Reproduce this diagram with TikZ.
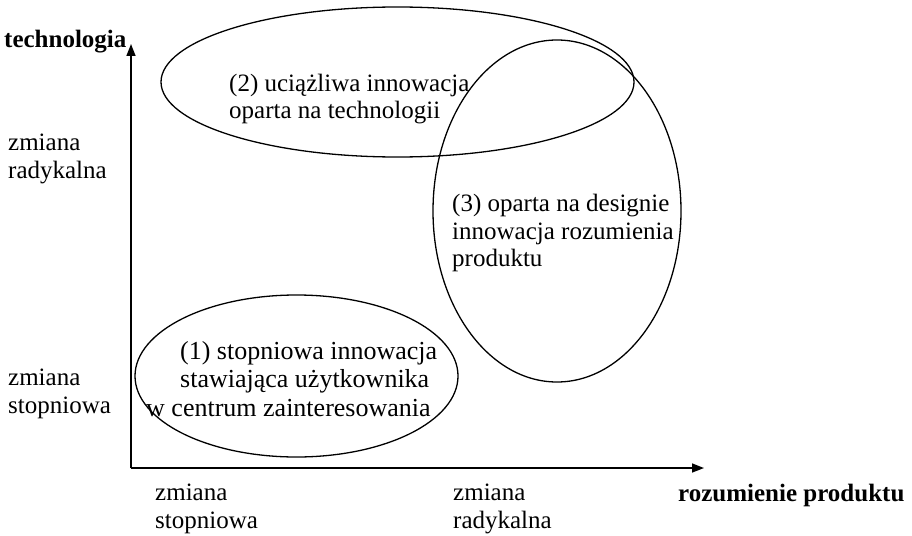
\documentclass[tikz,border=0pt]{standalone}
\usepackage{fontspec}
\setmainfont{Liberation Serif}
\usetikzlibrary{arrows.meta}
\begin{document}
\begin{tikzpicture}[x=1pt,y=-1pt,
  lbl/.style={anchor=west,inner sep=0pt,align=left,font=\fontsize{25}{27.5}\selectfont},
  axlbl/.style={anchor=west,inner sep=0pt,font=\fontsize{25}{27.5}\selectfont\bfseries},
  field/.style={draw,line width=1.3pt},
  axis/.style={line width=1.6pt,-{Triangle[length=12pt,width=9pt]}}]
\useasboundingbox (0,0) rectangle (912,535);
% axes
\coordinate (o) at (131,468);
\coordinate (ytip) at (131,44);
\coordinate (xtip) at (704,468);
\draw[axis] (o) -- (ytip);
\draw[axis] (o) -- (xtip);
% axis titles and scale labels
\node[axlbl] (ty) at (4,42) {technologia};
\node[axlbl] (tx) at (678,495) {rozumienie produktu};
\node[lbl] (yr) at (8,159) {zmiana\\radykalna};
\node[lbl] (ys) at (8,394) {zmiana\\stopniowa};
\node[lbl] (xs) at (155,509) {zmiana\\stopniowa};
\node[lbl] (xr) at (453,509) {zmiana\\radykalna};
% innovation fields
\draw[field] (397.5,82) ellipse [x radius=236.5, y radius=75];
\draw[field] (557,211) ellipse [x radius=124, y radius=171];
\draw[field] (296.5,376) ellipse [x radius=161.5, y radius=81];
\node[lbl] (f2) at (229,99) {(2) uciążliwa innowacja\\oparta na technologii};
\node[lbl] (f3) at (452,233) {(3) oparta na designie\\innowacja rozumienia\\produktu};
\node[lbl,font=\fontsize{26}{28.5}\selectfont] (f1) at (146,379)
  {\hspace{34pt}(1) stopniowa innowacja\\\hspace{34pt}stawiająca użytkownika\\w centrum zainteresowania};
\end{tikzpicture}
\end{document}
